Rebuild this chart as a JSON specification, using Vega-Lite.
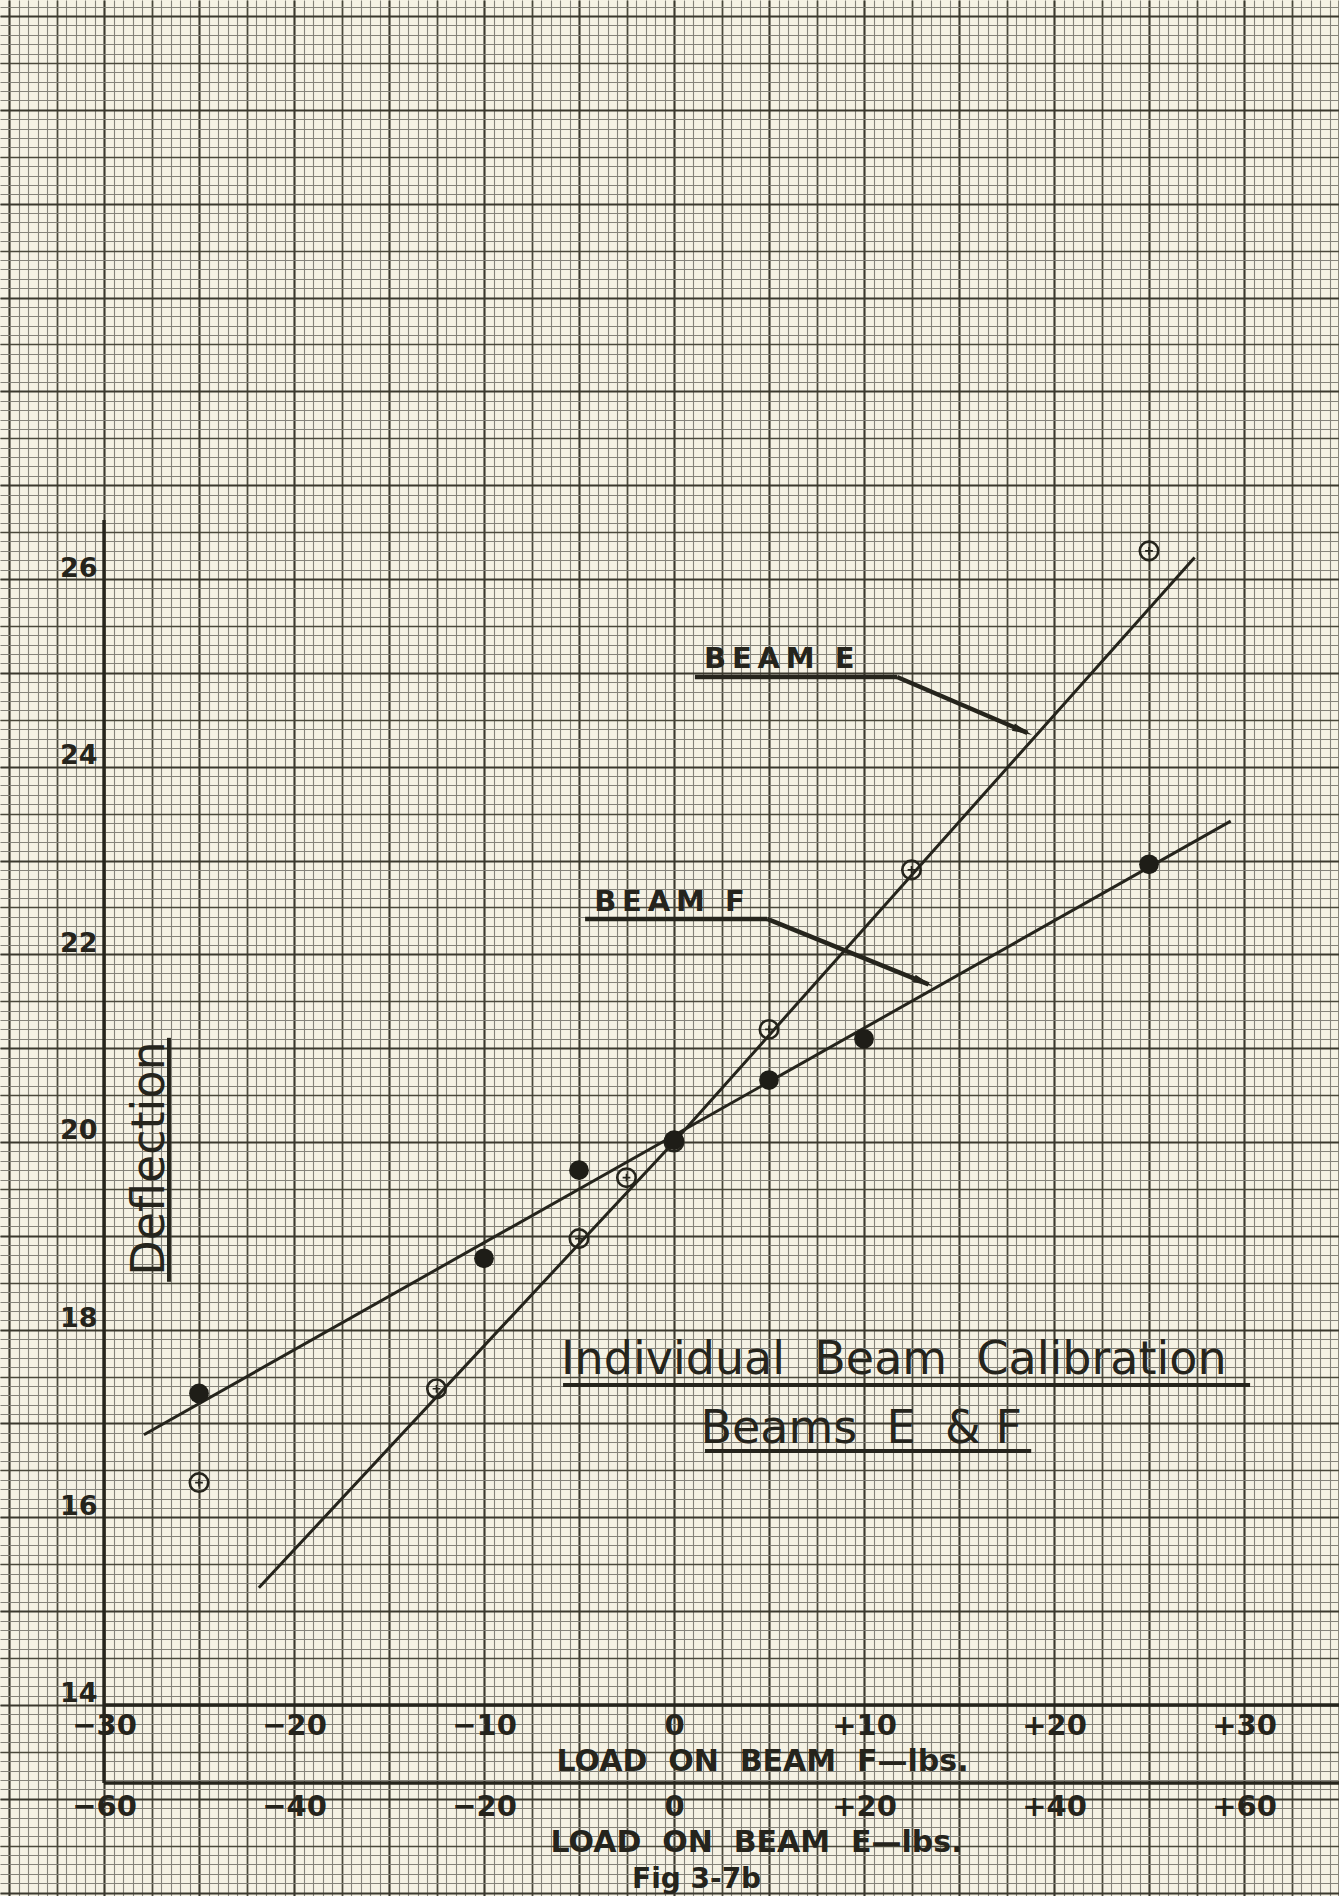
{
  "$schema": "https://vega.github.io/schema/vega-lite/v6.json",
  "width": 1339,
  "height": 1896,
  "padding": 0,
  "autosize": {"type": "none"},
  "background": "#f5f2e4",
  "config": {
    "view": {"stroke": null},
    "axis": {
      "domain": false, "ticks": false, "labels": false, "grid": false,
      "labelFlush": false, "labelOverlap": false, "labelBound": false,
      "labelColor": "#25241c", "labelFont": "DejaVu Sans", "labelFontWeight": "bold",
      "titleColor": "#25241c", "titleFont": "DejaVu Sans", "titleFontWeight": "bold",
      "gridOpacity": 1
    }
  },
  "datasets": {
    "fitF": [{"load": -27.9, "deflection": 16.88}, {"load": 29.3, "deflection": 23.42}],
    "fitE": [{"load": -43.7, "deflection": 15.25}, {"load": 0, "deflection": 20.0}, {"load": 54.8, "deflection": 26.23}],
    "beamF": [
      {"load": -25, "deflection": 17.32}, {"load": -10, "deflection": 18.76}, {"load": -5, "deflection": 19.7},
      {"load": 0, "deflection": 20.02}, {"load": 5, "deflection": 20.66}, {"load": 10, "deflection": 21.1},
      {"load": 25, "deflection": 22.96}
    ],
    "beamE": [
      {"load": -50, "deflection": 16.37}, {"load": -25, "deflection": 17.37}, {"load": -10, "deflection": 18.97},
      {"load": -5, "deflection": 19.62}, {"load": 0, "deflection": 20.0}, {"load": 10, "deflection": 21.2},
      {"load": 25, "deflection": 22.9}, {"load": 50, "deflection": 26.3}
    ],
    "segments": [
      {"kind": "axis", "x": -30, "y": 14, "x2": 35, "y2": 14},
      {"kind": "axis", "x": -30, "y": 13.169, "x2": 35, "y2": 13.169},
      {"kind": "axis", "x": -30, "y": 13.169, "x2": -30, "y2": 26.63},
      {"kind": "underline", "x": -5.84, "y": 17.41, "x2": 30.32, "y2": 17.41},
      {"kind": "underline", "x": 1.63, "y": 16.707, "x2": 18.8, "y2": 16.707},
      {"kind": "underline", "x": -26.58, "y": 18.51, "x2": -26.58, "y2": 21.11},
      {"kind": "leader", "x": 1.1, "y": 24.956, "x2": 11.74, "y2": 24.956},
      {"kind": "leader", "x": 11.74, "y": 24.956, "x2": 18.6, "y2": 24.36},
      {"kind": "leader", "x": -4.68, "y": 22.377, "x2": 4.9, "y2": 22.377},
      {"kind": "leader", "x": 4.9, "y": 22.377, "x2": 13.4, "y2": 21.68}
    ],
    "arrows": [{"x": 18.36, "y": 24.38}, {"x": 13.14, "y": 21.702}],
    "beamLabels": [
      {"text": "B\u2009E\u2009A\u2009M\u00a0\u00a0E", "x": 1.58, "y": 25.052},
      {"text": "B\u2009E\u2009A\u2009M\u00a0\u00a0F", "x": -4.2, "y": 22.462}
    ],
    "titles": [
      {"text": "Individual\u00a0\u00a0Beam\u00a0\u00a0Calibration", "x": -5.947, "y": 17.528},
      {"text": "Beams\u00a0\u00a0E\u00a0\u00a0&\u00a0F", "x": 1.395, "y": 16.792}
    ],
    "fig": [{"text": "Fig\u00a03-7b", "x": -2.21, "y": 12.05}]
  },
  "resolve": {"scale": {"x": "independent"}, "axis": {"x": "independent", "y": "independent"}},
  "layer": [
    {
      "data": {"name": "fitF"},
      "mark": {"type": "line", "color": "#25241c", "strokeWidth": 3},
      "encoding": {
        "x": {"field": "load", "type": "quantitative", "scale": {"domain": [-35.474, 35.0], "nice": false, "zero": false},
              "axis": {"orient": "bottom", "grid": true, "gridColor": "#85837a", "gridWidth": 1.1, "tickCount": 142, "title": null}},
        "y": {"field": "deflection", "type": "quantitative", "scale": {"domain": [11.964, 32.171], "nice": false, "zero": false},
              "axis": {"orient": "left", "grid": true, "gridColor": "#85837a", "gridWidth": 1.1, "tickCount": 200, "title": null}}
      }
    },
    {
      "data": {"name": "fitE"},
      "mark": {"type": "line", "color": "#25241c", "strokeWidth": 3},
      "encoding": {
        "x": {"field": "load", "type": "quantitative", "scale": {"domain": [-70.947, 70.0], "nice": false, "zero": false},
              "axis": {"orient": "bottom", "offset": -113, "labels": true, "values": [-60, -40, -20, 0, 20, 40, 60], "format": "d",
                       "labelExpr": "datum.value > 0 ? '+' + datum.label : datum.label",
                       "labelFontSize": 29, "labelPadding": 9, "labelBaseline": "top", "labelAlign": "center",
                       "title": "LOAD\u00a0\u00a0ON\u00a0\u00a0BEAM\u00a0\u00a0E—lbs.", "titleFontSize": 30, "titleX": 756, "titleY": 68,
                       "titleAlign": "center", "titleBaseline": "alphabetic"}},
        "y": {"field": "deflection", "type": "quantitative", "scale": {"domain": [11.964, 32.171], "nice": false, "zero": false},
              "axis": {"orient": "left", "grid": true, "gridColor": "#4a483b", "gridWidth": 1.7, "title": null,
                       "values": [12.5, 13.5, 14.5, 15.5, 16.5, 17.5, 18.5, 19.5, 20.5, 21.5, 22.5, 23.5, 24.5, 25.5, 26.5, 27.5, 28.5, 29.5, 30.5, 31.5]}}
      }
    },
    {
      "data": {"name": "segments"},
      "mark": {"type": "rule", "color": "#25241c"},
      "encoding": {
        "x": {"field": "x", "type": "quantitative", "scale": {"domain": [-35.474, 35.0], "nice": false, "zero": false},
              "axis": {"orient": "bottom", "grid": true, "gridColor": "#3b392e", "gridWidth": 2.1, "title": null,
                       "values": [-35, -30, -25, -20, -15, -10, -5, 0, 5, 10, 15, 20, 25, 30, 35]}},
        "x2": {"field": "x2"},
        "y": {"field": "y", "type": "quantitative", "scale": {"domain": [11.964, 32.171], "nice": false, "zero": false},
              "axis": {"orient": "left", "grid": true, "gridColor": "#3b392e", "gridWidth": 2.1, "title": null,
                       "values": [12, 13, 14, 15, 16, 17, 18, 19, 20, 21, 22, 23, 24, 25, 26, 27, 28, 29, 30, 31, 32]}},
        "y2": {"field": "y2"},
        "strokeWidth": {"field": "kind", "type": "ordinal", "scale": {"domain": ["axis", "underline", "leader"], "range": [3.4, 4.5, 3]}, "legend": null}
      }
    },
    {
      "data": {"name": "beamE"},
      "mark": {"type": "point", "shape": "circle", "filled": false, "size": 340, "strokeWidth": 2.6, "color": "#25241c", "opacity": 1},
      "encoding": {
        "x": {"field": "load", "type": "quantitative", "scale": {"domain": [-70.947, 70.0], "nice": false, "zero": false}, "axis": null},
        "y": {"field": "deflection", "type": "quantitative", "scale": {"domain": [11.964, 32.171], "nice": false, "zero": false},
              "axis": {"orient": "left", "offset": -105, "labels": true, "values": [14, 16, 18, 20, 22, 24, 26], "format": "d",
                       "labelFontSize": 27, "labelAlign": "right", "labelBaseline": "alphabetic", "labelPadding": 8, "labelOffset": -3,
                       "title": "Deflection", "titleAngle": 270, "titleX": 58, "titleY": 1158, "titleAlign": "center",
                       "titleBaseline": "alphabetic", "titleFontWeight": "normal", "titleFontSize": 46}}
      }
    },
    {
      "data": {"name": "beamE"},
      "mark": {"type": "point", "shape": "M-1,0L1,0M0,-1L0,1", "filled": false, "size": 60, "strokeWidth": 1.6, "color": "#25241c", "opacity": 1},
      "encoding": {
        "x": {"field": "load", "type": "quantitative", "scale": {"domain": [-70.947, 70.0], "nice": false, "zero": false}, "axis": null},
        "y": {"field": "deflection", "type": "quantitative", "scale": {"domain": [11.964, 32.171], "nice": false, "zero": false}, "axis": null}
      }
    },
    {
      "data": {"name": "beamF"},
      "mark": {"type": "circle", "size": 390, "color": "#1e1d17", "opacity": 1},
      "encoding": {
        "x": {"field": "load", "type": "quantitative", "scale": {"domain": [-35.474, 35.0], "nice": false, "zero": false},
              "axis": {"orient": "bottom", "grid": true, "gridColor": "#4a483b", "gridWidth": 1.7, "title": null,
                       "values": [-32.5, -27.5, -22.5, -17.5, -12.5, -7.5, -2.5, 2.5, 7.5, 12.5, 17.5, 22.5, 27.5, 32.5]}},
        "y": {"field": "deflection", "type": "quantitative", "scale": {"domain": [11.964, 32.171], "nice": false, "zero": false}, "axis": null}
      }
    },
    {
      "data": {"name": "arrows"},
      "mark": {"type": "point", "shape": "M-1,-0.38L1,0L-1,0.38Z", "filled": true, "size": 420, "angle": 22.6, "color": "#25241c", "opacity": 1},
      "encoding": {
        "x": {"field": "x", "type": "quantitative", "scale": {"domain": [-35.474, 35.0], "nice": false, "zero": false}, "axis": null},
        "y": {"field": "y", "type": "quantitative", "scale": {"domain": [11.964, 32.171], "nice": false, "zero": false}, "axis": null}
      }
    },
    {
      "data": {"name": "beamLabels"},
      "mark": {"type": "text", "font": "DejaVu Sans", "fontWeight": "bold", "fontSize": 29, "align": "left", "baseline": "alphabetic", "color": "#25241c"},
      "encoding": {
        "x": {"field": "x", "type": "quantitative", "scale": {"domain": [-35.474, 35.0], "nice": false, "zero": false},
              "axis": {"orient": "bottom", "offset": -191, "labels": true, "values": [-30, -20, -10, 0, 10, 20, 30], "format": "d",
                       "labelExpr": "datum.value > 0 ? '+' + datum.label : datum.label",
                       "labelFontSize": 29, "labelPadding": 6, "labelBaseline": "top", "labelAlign": "center",
                       "title": "LOAD\u00a0\u00a0ON\u00a0\u00a0BEAM\u00a0\u00a0F—lbs.", "titleFontSize": 30, "titleX": 762, "titleY": 65,
                       "titleAlign": "center", "titleBaseline": "alphabetic"}},
        "y": {"field": "y", "type": "quantitative", "scale": {"domain": [11.964, 32.171], "nice": false, "zero": false}, "axis": null},
        "text": {"field": "text"}
      }
    },
    {
      "data": {"name": "titles"},
      "mark": {"type": "text", "font": "DejaVu Sans", "fontSize": 46, "align": "left", "baseline": "alphabetic", "color": "#25241c"},
      "encoding": {
        "x": {"field": "x", "type": "quantitative", "scale": {"domain": [-35.474, 35.0], "nice": false, "zero": false}, "axis": null},
        "y": {"field": "y", "type": "quantitative", "scale": {"domain": [11.964, 32.171], "nice": false, "zero": false}, "axis": null},
        "text": {"field": "text"}
      }
    },
    {
      "data": {"name": "fig"},
      "mark": {"type": "text", "font": "DejaVu Sans", "fontWeight": "bold", "fontSize": 28, "align": "left", "baseline": "alphabetic", "color": "#25241c"},
      "encoding": {
        "x": {"field": "x", "type": "quantitative", "scale": {"domain": [-35.474, 35.0], "nice": false, "zero": false}, "axis": null},
        "y": {"field": "y", "type": "quantitative", "scale": {"domain": [11.964, 32.171], "nice": false, "zero": false}, "axis": null},
        "text": {"field": "text"}
      }
    }
  ]
}
